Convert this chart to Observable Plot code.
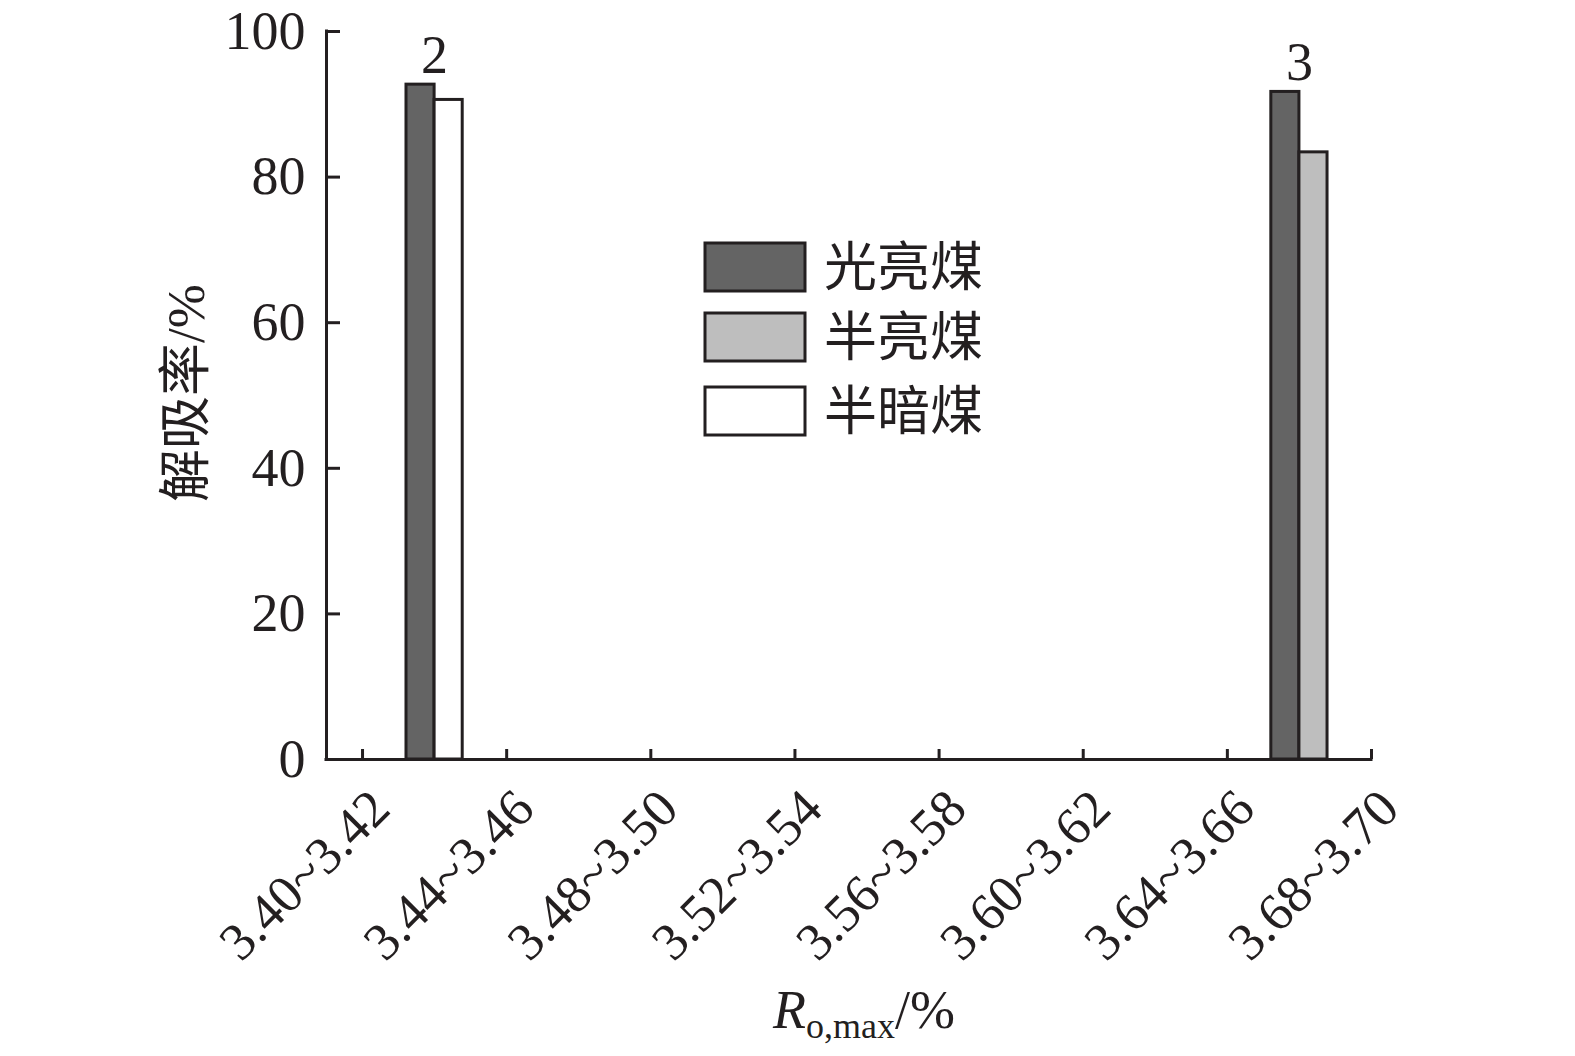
<!DOCTYPE html>
<html>
<head>
<meta charset="utf-8">
<script src="https://cdn.jsdelivr.net/npm/d3@7"></script>
<script src="https://cdn.jsdelivr.net/npm/@observablehq/plot@0.6"></script>
<style>
  html, body { margin: 0; padding: 0; background: #fff; }
  #chart { position: relative; width: 1575px; height: 1056px; }
</style>
</head>
<body>
<div id="chart"></div>
<script>
// ---- data ----
const xTickLabels = ["3.40~3.42", "3.44~3.46", "3.48~3.50", "3.52~3.54", "3.56~3.58", "3.60~3.62", "3.64~3.66", "3.68~3.70"];
const yTicks = [0, 20, 40, 60, 80, 100];
const groups = ["3.42~3.44", "3.66~3.68"];
const groupLabels = ["2", "3"];
const seriesNames = ["光亮煤", "半亮煤", "半暗煤"];
const seriesColors = ["#646464", "#bebebe", "#ffffff"];
const bright = [92.7, 91.7];      // 光亮煤
const semiBright = [null, 83.4];  // 半亮煤
const semiDark = [90.6, null];    // 半暗煤

// ---- derived tables ----
const mid = s => { const [a, b] = s.split("~").map(Number); return (a + b) / 2; };
const tickPos = xTickLabels.map(mid);
const seriesValues = [bright, semiBright, semiDark];
const barW = 0.0078;
const rows = [];
const groupRows = [];
groups.forEach((g, gi) => {
  const c = mid(g);
  const present = seriesValues.map((vals, si) => ({si, v: vals[gi]})).filter(d => d.v != null);
  const n = present.length;
  present.forEach((d, k) => {
    rows.push({x1: c + (k - n / 2) * barW, x2: c + (k + 1 - n / 2) * barW, value: d.v, series: seriesNames[d.si], fill: seriesColors[d.si]});
  });
  groupRows.push({x: c, y: d3.max(present, d => d.v), label: groupLabels[gi]});
});

const ink = "#231f20";
const font = '"Liberation Serif", "Times New Roman", "Noto Sans CJK SC", serif';

const chart = Plot.plot({
  width: 1575,
  height: 1056,
  marginLeft: 326,
  marginRight: 204,
  marginTop: 31,
  marginBottom: 297,
  x: {domain: [3.40, 3.69], axis: null},
  y: {domain: [0, 100], axis: null},
  style: {fontFamily: font, color: ink, background: "#fff", overflow: "visible"},
  marks: [
    Plot.rectY(rows, {x1: "x1", x2: "x2", y1: 0, y2: "value", fill: "fill", stroke: ink, strokeWidth: 3}),
    Plot.ruleY([0], {stroke: ink, strokeWidth: 3, strokeLinecap: "square"}),
    Plot.ruleX([3.40], {stroke: ink, strokeWidth: 3, strokeLinecap: "square"}),
    Plot.axisY({ticks: yTicks, tickSize: 0, tickPadding: 21, fontSize: 54, tickFormat: d => String(d), fill: ink}),
    Plot.axisY({ticks: yTicks, tickSize: 14, dx: 14, tickFormat: () => "", stroke: ink, strokeWidth: 3}),
    Plot.axisX({ticks: tickPos, tickSize: 10, dy: -10, tickFormat: () => "", stroke: ink, strokeWidth: 3}),
    Plot.text(tickPos, {x: d => d, frameAnchor: "bottom", text: (d, i) => xTickLabels[i], rotate: -45, textAnchor: "end", lineAnchor: "bottom", dx: 30, dy: 52, fontSize: 53, fill: ink}),
    Plot.text(groupRows, {x: "x", y: "y", text: "label", dy: -12, lineAnchor: "bottom", fontSize: 54, fill: ink})
  ]
});

document.getElementById("chart").appendChild(chart);
const svg = d3.select(chart);

// y axis title
svg.append("text")
  .attr("transform", "translate(185,393) rotate(-90)")
  .attr("text-anchor", "middle")
  .attr("dy", "0.36em")
  .attr("font-size", 53)
  .attr("fill", ink)
  .attr("font-family", font)
  .text("解吸率/%");

// x axis title
const xt = svg.append("text")
  .attr("x", 864).attr("y", 1028)
  .attr("text-anchor", "middle")
  .attr("font-size", 54)
  .attr("fill", ink)
  .attr("font-family", font);
xt.append("tspan").attr("font-style", "italic").text("R");
xt.append("tspan").attr("font-size", 36).attr("dy", 10).text("o,max");
xt.append("tspan").attr("dy", -10).text("/%");

// legend
const legY = [243, 313, 387];
const leg = svg.append("g");
seriesNames.forEach((name, i) => {
  leg.append("rect").attr("x", 705).attr("y", legY[i]).attr("width", 100).attr("height", 48)
    .attr("fill", seriesColors[i]).attr("stroke", ink).attr("stroke-width", 3);
  leg.append("text").attr("x", 824).attr("y", legY[i] + 24).attr("dy", "0.36em")
    .attr("text-anchor", "start")
    .attr("font-size", 53).attr("fill", ink)
    .attr("font-family", '"Noto Sans CJK SC", sans-serif')
    .text(name);
});
</script>
</body>
</html>
